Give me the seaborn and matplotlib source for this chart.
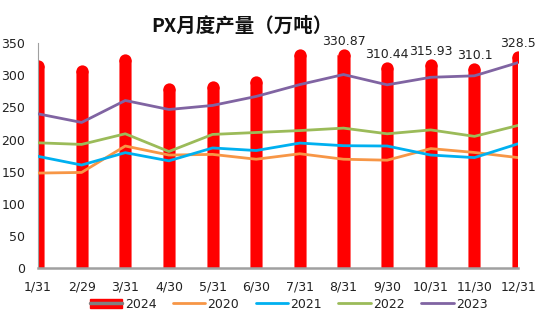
import matplotlib
matplotlib.use("Agg")
import matplotlib.pyplot as plt
import seaborn as sns
import pandas as pd
import numpy as np
from matplotlib.patches import Patch
from matplotlib.lines import Line2D

categories = ["1/31", "2/29", "3/31", "4/30", "5/31", "6/30",
              "7/31", "8/31", "9/30", "10/31", "11/30", "12/31"]
v2024 = [315, 306, 324, 278, 282, 289, 331, 330.87, 310.44, 315.93, 310.1, 328.5]
labels2024 = [None, None, None, None, None, None, None,
              "330.87", "310.44", "315.93", "310.1", "328.5"]
v2020 = [148, 149, 190, 176, 177, 169.5, 178, 169.5, 168, 186, 180, 172]
v2021 = [174, 160.5, 179.7, 167, 187, 183, 194.6, 190.5, 190, 176, 172, 193.5]
v2022 = [195, 192.5, 209, 181.5, 208, 211, 214, 217.8, 209, 215, 205, 222]
v2023 = [240, 226.6, 260.7, 246.7, 253, 267, 285.4, 301, 285, 296.7, 299, 319.5]

sns.set_theme(style="white")
plt.rcParams['font.family'] = ['Noto Sans CJK SC', 'DejaVu Sans']

fig = plt.figure(figsize=(5.5, 3.23), dpi=100)
ax = fig.add_axes([0.069, 0.169, 0.873, 0.698])

bar_df = pd.DataFrame({"month": categories, "value": v2024})
sns.barplot(data=bar_df, x="month", y="value", color="#FF0000", width=0.275,
            saturation=1, ax=ax, zorder=1, edgecolor="#FF6060", linewidth=0.4)
# rounded caps on the bars
xs = np.arange(len(categories))
ax.scatter(xs, v2024, s=78, color="#FF0000", zorder=1, linewidths=0)

line_colors = {"2020": "#F79646", "2021": "#00B0F0", "2022": "#9BBB59", "2023": "#8064A2"}
series = {"2020": v2020, "2021": v2021, "2022": v2022, "2023": v2023}
rows = []
for yr, vals in series.items():
    for i, v in enumerate(vals):
        rows.append({"pos": i, "value": v, "year": yr})
line_df = pd.DataFrame(rows)
sns.lineplot(data=line_df, x="pos", y="value", hue="year", palette=line_colors,
             linewidth=2.0, ax=ax, legend=False, zorder=3)

for i, (v, lab) in enumerate(zip(v2024, labels2024)):
    if lab is not None:
        ax.annotate(lab, (i, v), xytext=(0, 5), textcoords="offset points",
                    ha="center", va="bottom", fontsize=9, color="#222222",
                    family=['DejaVu Sans'])

ax.set_xlim(0, 11)
ax.set_ylim(0, 350)
ax.set_yticks(np.arange(0, 351, 50))
ax.set_xticks(xs)
ax.set_xticklabels(categories)
ax.tick_params(axis="both", labelsize=9, colors="#222222", length=0)
ax.tick_params(axis="x", pad=9)
ax.tick_params(axis="y", pad=9)
for lab in ax.get_xticklabels() + ax.get_yticklabels():
    lab.set_family(['DejaVu Sans'])
ax.set_xlabel("")
ax.set_ylabel("")
sns.despine(ax=ax)
ax.spines["left"].set_color("#A0A0A0")
ax.spines["left"].set_linewidth(0.8)
ax.spines["bottom"].set_color("#A0A0A0")
ax.spines["bottom"].set_linewidth(1.8)
ax.spines["bottom"].set_zorder(5)

fig.text(0.44, 0.918, "PX月度产量（万吨）", ha="center", va="center",
         fontsize=14, fontweight="bold", color="#111111")

h2024 = (Patch(facecolor="#FF0000", edgecolor="#FF0000"),
         Line2D([0], [0], color="#808080", linewidth=2.5))
handles = [h2024] + [Line2D([0], [0], color=c, linewidth=2.0) for c in line_colors.values()]
names = ["2024"] + list(line_colors.keys())
leg = fig.legend(handles, names, loc="center", bbox_to_anchor=(0.525, 0.058), ncol=5,
                 frameon=False, fontsize=9, handlelength=2.6, columnspacing=1.3,
                 handletextpad=0.2)
for t in leg.get_texts():
    t.set_family(['DejaVu Sans'])
    t.set_color("#222222")

fig.savefig("out.png", dpi=100)
